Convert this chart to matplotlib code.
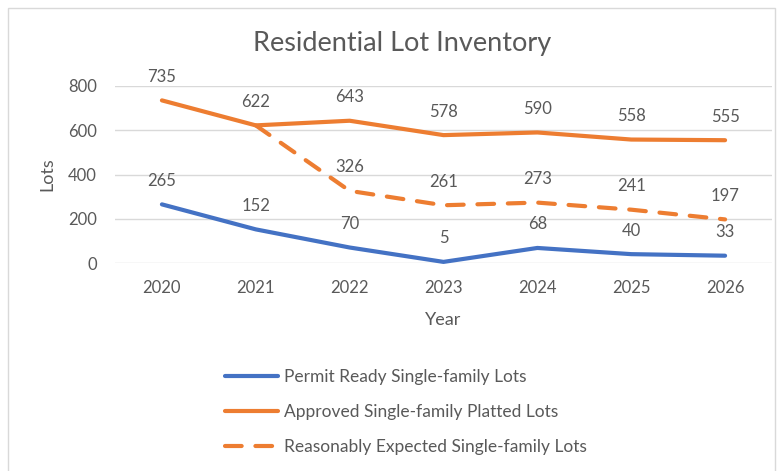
import numpy as np
import matplotlib
matplotlib.use("Agg")
import matplotlib.pyplot as plt
from matplotlib.patches import Rectangle

years = ["2020", "2021", "2022", "2023", "2024", "2025", "2026"]
permit_ready = [265, 152, 70, 5, 68, 40, 33]
approved_platted = [735, 622, 643, 578, 590, 558, 555]
reasonably_expected = [np.nan, 622, 326, 261, 273, 241, 197]

BLUE = "#4472C4"
ORANGE = "#ED7D31"
TEXT = "#595959"
GRID = "#D9D9D9"

plt.rcParams["font.family"] = ["Lato", "DejaVu Sans"]

fig = plt.figure(figsize=(7.83, 4.71), dpi=100)
ax = fig.add_axes([115 / 783, 1 - 263 / 471, (772 - 115) / 783, (263 - 86) / 471])

x = np.arange(len(years))

ax.plot(x, permit_ready, color=BLUE, lw=3, solid_capstyle="round",
        solid_joinstyle="round", label="Permit Ready Single-family Lots", clip_on=False)
ax.plot(x, approved_platted, color=ORANGE, lw=3, solid_capstyle="round",
        solid_joinstyle="round", label="Approved Single-family Platted Lots", clip_on=False)
ax.plot(x, reasonably_expected, color=ORANGE, lw=3, linestyle=(0, (4, 3.3)),
        dash_capstyle="round", label="Reasonably Expected Single-family Lots", clip_on=False)

# data labels above each point
for series in (permit_ready, approved_platted):
    for xi, v in zip(x, series):
        ax.annotate(str(v), (xi, v), xytext=(0, 17), textcoords="offset points",
                    ha="center", va="center", fontsize=12, color=TEXT)
for xi, v in zip(x[2:], reasonably_expected[2:]):
    ax.annotate(str(v), (xi, v), xytext=(0, 17), textcoords="offset points",
                ha="center", va="center", fontsize=12, color=TEXT)

ax.set_xlim(-0.5, len(years) - 0.5)
ax.set_ylim(0, 800)
ax.set_yticks([0, 200, 400, 600, 800])
ax.set_xticks(x)
ax.set_xticklabels(years)
ax.grid(axis="y", color=GRID, lw=1)
ax.set_axisbelow(True)
for s in ax.spines.values():
    s.set_visible(False)
ax.tick_params(length=0, labelsize=12, colors=TEXT, pad=12)
ax.tick_params(axis="y", pad=13)

ax.set_xlabel("Year", fontsize=13, color=TEXT, labelpad=12)
ax.set_ylabel("Lots", fontsize=13, color=TEXT, labelpad=9)

fig.text(402 / 783, 1 - 44 / 471, "Residential Lot Inventory", ha="center",
         va="center", fontsize=19.5, color=TEXT)

fig.legend(loc="upper left", bbox_to_anchor=(209 / 783, 1 - 353 / 471),
           frameon=False, fontsize=12.5, labelcolor=TEXT, handlelength=3.1,
           labelspacing=1.1, handletextpad=0.3)

# chart border
fig.add_artist(Rectangle((8 / 783, -0.05), (775 - 8) / 783, 1.05 - 8 / 471,
                         transform=fig.transFigure, fill=False, edgecolor=GRID, lw=1))

fig.savefig("out.png", dpi=100)
